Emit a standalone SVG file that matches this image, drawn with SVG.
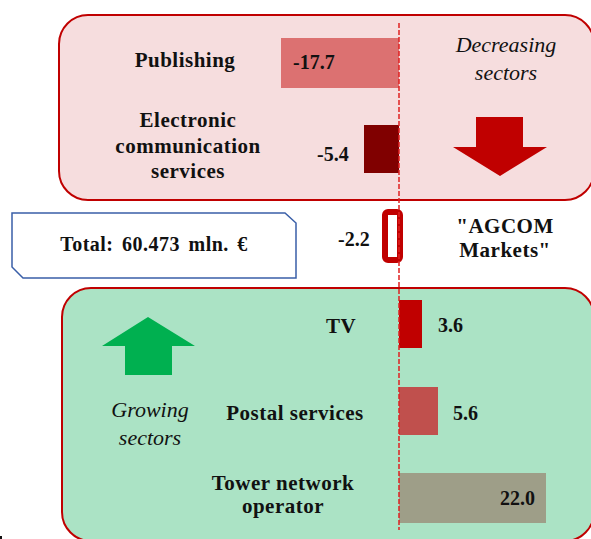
<svg xmlns="http://www.w3.org/2000/svg" width="591" height="539" viewBox="0 0 591 539">
<style>
text{font-family:'Liberation Serif','Times New Roman','DejaVu Serif',serif;fill:#111}
.lbl{font-weight:bold;font-size:21px;letter-spacing:0.5px;text-anchor:middle}
.num{font-weight:bold;font-size:20px}
.it{font-style:italic;font-size:22px;text-anchor:middle}
</style>
<rect width="591" height="539" fill="#fff"/>
<g id="decreasing-panel">
<rect x="59" y="15" width="535" height="185" rx="29" fill="#F6DDDE" stroke="#C00000" stroke-width="2"/>
<text class="it" x="506" y="52">Decreasing</text>
<text class="it" x="506" y="80">sectors</text>
<polygon points="476,117 523,117 523,147 547,147 500,176 453,147 476,147" fill="#C00000"/>
</g>
<g id="growing-panel">
<rect x="62" y="288" width="532" height="253" rx="29" fill="#ABE3C5" stroke="#C00000" stroke-width="2"/>
<polygon points="148,317 195,346 172,346 172,375 125,375 125,346 102,346" fill="#00B050"/>
<text class="it" x="150" y="417">Growing</text>
<text class="it" x="150" y="445">sectors</text>
</g>
<g id="publishing">
<rect x="281" y="38" width="118" height="50" fill="#DC7171"/>
<text class="lbl" x="185" y="67">Publishing</text>
<text class="num" x="293" y="69">-17.7</text>
</g>
<g id="electronic">
<rect x="364" y="125" width="35" height="48" fill="#800000"/>
<text class="lbl" x="188" y="127">Electronic</text>
<text class="lbl" x="188" y="153">communication</text>
<text class="lbl" x="188" y="178">services</text>
<text class="num" x="317" y="161">-5.4</text>
</g>
<g id="total">
<polygon points="12,213 285,213 296,223 296,278 23,278 12,267" fill="#fff" stroke="#3A5FA8" stroke-width="1.5"/>
<text class="lbl" x="154" y="251" style="font-size:20px;word-spacing:3px">Total: 60.473 mln. €</text>
</g>
<g id="agcom">
<rect x="385" y="212" width="15" height="48" rx="3" fill="#fff" stroke="#C00000" stroke-width="6"/>
<text class="num" x="338" y="246">-2.2</text>
<text class="lbl" x="505" y="233">"AGCOM</text>
<text class="lbl" x="505" y="257">Markets"</text>
</g>
<g id="tv">
<rect x="399" y="300" width="23" height="48" fill="#C00000"/>
<text class="lbl" x="341" y="333">TV</text>
<text class="num" x="438" y="332">3.6</text>
</g>
<g id="postal">
<rect x="399" y="387" width="39" height="48" fill="#C0504D"/>
<text class="lbl" x="295" y="420">Postal services</text>
<text class="num" x="453" y="420">5.6</text>
</g>
<g id="tower">
<rect x="399" y="473" width="147" height="50" fill="#9E9E88"/>
<text class="lbl" x="283" y="490">Tower network</text>
<text class="lbl" x="283" y="513">operator</text>
<text class="num" x="535" y="505" text-anchor="end">22.0</text>
</g>
<g id="connectors">
<line x1="399" y1="23" x2="399" y2="530" stroke="#E02020" stroke-width="1.5" stroke-dasharray="5 2"/>
</g>
<rect x="0" y="536" width="2" height="3" fill="#111"/>
</svg>
